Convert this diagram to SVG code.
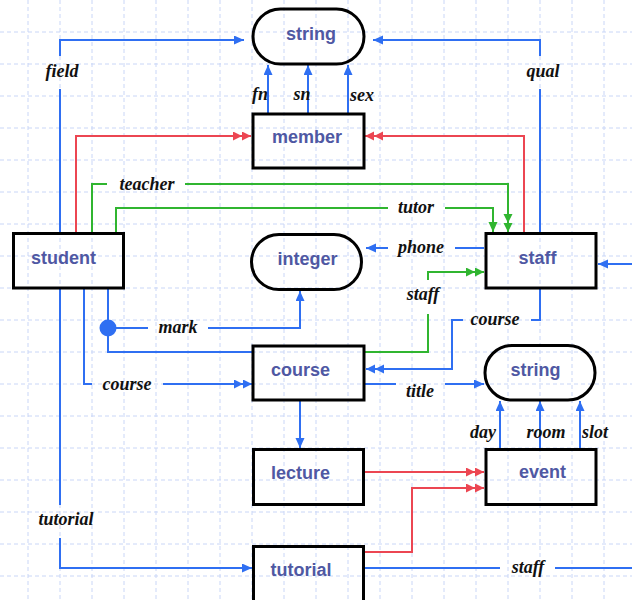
<svg xmlns="http://www.w3.org/2000/svg" width="632" height="600" viewBox="0 0 632 600">
  <defs>
    <style>
      .grid line { stroke: #c9d6f7; stroke-width: 1; stroke-dasharray: 4 3; }
      .box { fill: none; stroke: #000; stroke-width: 3; }
      .name { font-family: "Liberation Sans", Arial, sans-serif; font-weight: bold; font-size: 18px; fill: #4f58a3; text-anchor: middle; }
      .lbl { font-family: "Liberation Serif", "Times New Roman", serif; font-weight: bold; font-style: italic; font-size: 18px; fill: #111; text-anchor: middle; }
      .blue { fill: none; stroke: #2f6ff2; stroke-width: 2; }
      .red { fill: none; stroke: #ec4652; stroke-width: 2; }
      .green { fill: none; stroke: #30b530; stroke-width: 2; }
    </style>
    <marker id="arrBlue" markerUnits="userSpaceOnUse" markerWidth="11" markerHeight="10" refX="10" refY="4.5" orient="auto">
      <path d="M0,0 L10,4.5 L0,9 z" fill="#2f6ff2"/>
    </marker>
    <marker id="dblBlue" markerUnits="userSpaceOnUse" markerWidth="19" markerHeight="10" refX="18" refY="4.5" orient="auto">
      <path d="M0,0 L9,4.5 L0,9 z M9,0 L18,4.5 L9,9 z" fill="#2f6ff2"/>
    </marker>
    <marker id="dblRed" markerUnits="userSpaceOnUse" markerWidth="19" markerHeight="10" refX="18" refY="4.5" orient="auto">
      <path d="M0,0 L9,4.5 L0,9 z M9,0 L18,4.5 L9,9 z" fill="#ec4652"/>
    </marker>
    <marker id="arrGreen" markerUnits="userSpaceOnUse" markerWidth="11" markerHeight="10" refX="10" refY="4.5" orient="auto">
      <path d="M0,0 L10,4.5 L0,9 z" fill="#30b530"/>
    </marker>
    <marker id="dblGreen" markerUnits="userSpaceOnUse" markerWidth="19" markerHeight="10" refX="18" refY="4.5" orient="auto">
      <path d="M0,0 L9,4.5 L0,9 z M9,0 L18,4.5 L9,9 z" fill="#30b530"/>
    </marker>
  </defs>

  <rect width="632" height="600" fill="#fff"/>

  <!-- background grid -->
  <g class="grid">
    <line x1="28" y1="0" x2="28" y2="600"/>
    <line x1="60" y1="0" x2="60" y2="600"/>
    <line x1="92" y1="0" x2="92" y2="600"/>
    <line x1="124" y1="0" x2="124" y2="600"/>
    <line x1="156" y1="0" x2="156" y2="600"/>
    <line x1="188" y1="0" x2="188" y2="600"/>
    <line x1="220" y1="0" x2="220" y2="600"/>
    <line x1="252" y1="0" x2="252" y2="600"/>
    <line x1="284" y1="0" x2="284" y2="600"/>
    <line x1="316" y1="0" x2="316" y2="600"/>
    <line x1="348" y1="0" x2="348" y2="600"/>
    <line x1="380" y1="0" x2="380" y2="600"/>
    <line x1="412" y1="0" x2="412" y2="600"/>
    <line x1="444" y1="0" x2="444" y2="600"/>
    <line x1="476" y1="0" x2="476" y2="600"/>
    <line x1="508" y1="0" x2="508" y2="600"/>
    <line x1="540" y1="0" x2="540" y2="600"/>
    <line x1="572" y1="0" x2="572" y2="600"/>
    <line x1="604" y1="0" x2="604" y2="600"/>
    <line x1="0" y1="32" x2="632" y2="32"/>
    <line x1="0" y1="64" x2="632" y2="64"/>
    <line x1="0" y1="96" x2="632" y2="96"/>
    <line x1="0" y1="128" x2="632" y2="128"/>
    <line x1="0" y1="160" x2="632" y2="160"/>
    <line x1="0" y1="192" x2="632" y2="192"/>
    <line x1="0" y1="224" x2="632" y2="224"/>
    <line x1="0" y1="256" x2="632" y2="256"/>
    <line x1="0" y1="288" x2="632" y2="288"/>
    <line x1="0" y1="320" x2="632" y2="320"/>
    <line x1="0" y1="352" x2="632" y2="352"/>
    <line x1="0" y1="384" x2="632" y2="384"/>
    <line x1="0" y1="416" x2="632" y2="416"/>
    <line x1="0" y1="448" x2="632" y2="448"/>
    <line x1="0" y1="480" x2="632" y2="480"/>
    <line x1="0" y1="512" x2="632" y2="512"/>
    <line x1="0" y1="544" x2="632" y2="544"/>
    <line x1="0" y1="576" x2="632" y2="576"/>
  </g>

  <!-- connectors -->
  <g id="connectors">
    <!-- student field -> string -->
    <path class="blue" d="M60,232 V89 M60,56 V40 H244" marker-end="url(#arrBlue)"/>
    <!-- student is-a member -->
    <path class="red" d="M76,232 V136 H251" marker-end="url(#dblRed)"/>
    <!-- student teacher -> staff -->
    <path class="green" d="M92,232 V184 H107 M185,184 H508 V232" marker-end="url(#dblGreen)"/>
    <!-- student tutor -> staff -->
    <path class="green" d="M116,232 V208 H388 M445,208 H493 V232" marker-end="url(#arrGreen)"/>
    <!-- member fn / sn / sex -> string -->
    <path class="blue" d="M268,113 V65" marker-end="url(#arrBlue)"/>
    <path class="blue" d="M308,113 V65" marker-end="url(#arrBlue)"/>
    <path class="blue" d="M348,113 V65" marker-end="url(#arrBlue)"/>
    <!-- staff is-a member -->
    <path class="red" d="M524,232 V136 H365" marker-end="url(#dblRed)"/>
    <!-- staff qual -> string -->
    <path class="blue" d="M540,232 V89 M540,56 V40 H373" marker-end="url(#arrBlue)"/>
    <!-- staff phone -> integer -->
    <path class="blue" d="M484,248 H455 M388,248 H366" marker-end="url(#arrBlue)"/>
    <!-- incoming from the right -> staff -->
    <path class="blue" d="M632,264 H598" marker-end="url(#arrBlue)"/>
    <!-- course staff -> staff -->
    <path class="green" d="M365,352 H428 V314 M428,280 V272 H484" marker-end="url(#dblGreen)"/>
    <!-- staff course -> course -->
    <path class="blue" d="M540,289 V320 H531 M463,320 H452 V369 H366" marker-end="url(#dblBlue)"/>
    <!-- student mark: association via course -->
    <path class="blue" d="M108,289 V352 H252"/>
    <path class="blue" d="M116,328 H148 M208,328 H300 V291" marker-end="url(#arrBlue)"/>
    <circle cx="108" cy="328" r="8.5" fill="#2f6ff2"/>
    <!-- student course -> course -->
    <path class="blue" d="M84,289 V384 H92 M163,384 H252" marker-end="url(#dblBlue)"/>
    <!-- student tutorial -> tutorial -->
    <path class="blue" d="M60,289 V505 M60,538 V568 H252" marker-end="url(#arrBlue)"/>
    <!-- course title -> string -->
    <path class="blue" d="M365,384 H396 M445,384 H484" marker-end="url(#arrBlue)"/>
    <!-- course -> lecture -->
    <path class="blue" d="M300,401 V448" marker-end="url(#arrBlue)"/>
    <!-- event day / room / slot -> string -->
    <path class="blue" d="M500,448 V401" marker-end="url(#arrBlue)"/>
    <path class="blue" d="M540,448 V401" marker-end="url(#arrBlue)"/>
    <path class="blue" d="M580,448 V401" marker-end="url(#arrBlue)"/>
    <!-- lecture is-a event -->
    <path class="red" d="M365,472 H484" marker-end="url(#dblRed)"/>
    <!-- tutorial is-a event -->
    <path class="red" d="M365,552 H412 V488 H484" marker-end="url(#dblRed)"/>
    <!-- tutorial staff -> off to the right -->
    <path class="blue" d="M365,568 H500 M555,568 H632"/>
  </g>

  <!-- connector labels -->
  <g id="labels">
    <text class="lbl" x="62" y="77">field</text>
    <text class="lbl" x="147" y="190">teacher</text>
    <text class="lbl" x="416" y="213">tutor</text>
    <text class="lbl" x="260" y="100">fn</text>
    <text class="lbl" x="302" y="100">sn</text>
    <text class="lbl" x="362" y="101">sex</text>
    <text class="lbl" x="543" y="77">qual</text>
    <text class="lbl" x="421" y="253">phone</text>
    <text class="lbl" x="423" y="300">staff</text>
    <text class="lbl" x="495" y="325">course</text>
    <text class="lbl" x="178" y="333">mark</text>
    <text class="lbl" x="127" y="390">course</text>
    <text class="lbl" x="420" y="397">title</text>
    <text class="lbl" x="66" y="525">tutorial</text>
    <text class="lbl" x="483" y="438">day</text>
    <text class="lbl" x="546" y="438">room</text>
    <text class="lbl" x="595" y="438">slot</text>
    <text class="lbl" x="528" y="573">staff</text>
  </g>

  <!-- nodes -->
  <g id="string-top">
    <rect class="box" x="253" y="9" width="111" height="55" rx="27.5"/>
    <text class="name" x="311" y="40">string</text>
  </g>
  <g id="member">
    <rect class="box" x="253" y="114" width="111" height="54"/>
    <text class="name" x="307" y="143">member</text>
  </g>
  <g id="student">
    <rect class="box" x="13.5" y="233.5" width="110" height="54.5"/>
    <text class="name" x="63.5" y="264">student</text>
  </g>
  <g id="integer">
    <rect class="box" x="251.5" y="234.5" width="110" height="55" rx="27.5"/>
    <text class="name" x="307.5" y="265">integer</text>
  </g>
  <g id="staff">
    <rect class="box" x="486" y="233.5" width="110" height="54.5"/>
    <text class="name" x="537.5" y="263.5">staff</text>
  </g>
  <g id="course">
    <rect class="box" x="253" y="346" width="111" height="54"/>
    <text class="name" x="300.5" y="376">course</text>
  </g>
  <g id="string-right">
    <rect class="box" x="485" y="345.5" width="110" height="54.5" rx="27"/>
    <text class="name" x="535.5" y="376">string</text>
  </g>
  <g id="lecture">
    <rect class="box" x="253.5" y="449.5" width="110" height="55"/>
    <text class="name" x="300.5" y="479">lecture</text>
  </g>
  <g id="event">
    <rect class="box" x="486" y="449.5" width="110" height="55"/>
    <text class="name" x="542.5" y="478">event</text>
  </g>
  <g id="tutorial">
    <rect class="box" x="253.5" y="546.5" width="110" height="57"/>
    <text class="name" x="301" y="576">tutorial</text>
  </g>
</svg>
